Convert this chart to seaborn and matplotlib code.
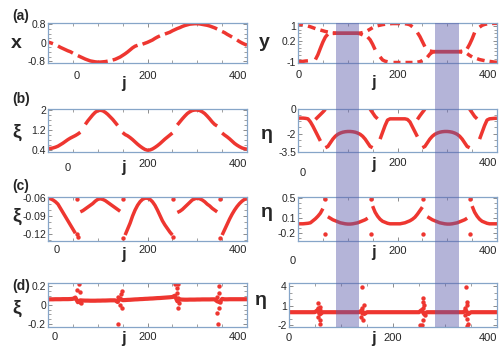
import numpy as np
import pandas as pd
import matplotlib
matplotlib.use("Agg")
import matplotlib.pyplot as plt
import seaborn as sns
from matplotlib.patches import Rectangle
from matplotlib.ticker import FixedLocator, MultipleLocator
from matplotlib.transforms import blended_transform_factory, ScaledTranslation

sns.set_theme(style="white")
plt.rcParams['font.family'] = ['Liberation Sans', 'DejaVu Sans']

nan = np.nan

# ---------------------------------------------------------------------
# data read off the figure, sampled every 5 sites (nan = gap in the curve)
# ---------------------------------------------------------------------
J = np.arange(0, 401, 5)

# (a) left: x
X_A = [0.03, 0.00, -0.04, nan, -0.14, -0.20, -0.25, -0.30, -0.35, -0.39,
       -0.45, nan, -0.56, -0.61, -0.66, -0.71, -0.75, -0.79, -0.81, -0.83,
       -0.84, -0.84, -0.83, -0.82, -0.80, nan, -0.75, -0.72, -0.67, -0.62,
       -0.55, -0.48, -0.40, -0.31, -0.22, -0.15, -0.11, nan, -0.06, -0.02,
       0.02, 0.07, 0.12, 0.19, 0.25, 0.30, nan, 0.38, 0.42, 0.46,
       0.52, 0.57, 0.62, 0.66, 0.71, 0.75, 0.78, 0.81, 0.82, 0.83,
       0.83, 0.82, 0.80, 0.78, 0.76, 0.73, 0.69, 0.65, 0.60, nan,
       0.49, 0.44, 0.37, 0.31, 0.25, nan, 0.12, 0.05, -0.01, -0.06,
       -0.11]

# (a) right: y, two branches
Y_A1 = [1.13, 1.11, 1.08, nan, 1.01, 0.97, 0.92, 0.87, nan, 0.79,
        0.75, 0.71, 0.68, nan, 0.63, 0.62, 0.61, 0.61, 0.61, 0.61,
        0.61, 0.61, 0.61, 0.61, 0.61, 0.62, 0.65, nan, 0.76, 0.84,
        0.92, nan, 1.03, 1.06, 1.09, 1.11, nan, 1.14, 1.15, 1.15,
        1.15, 1.15, nan, 1.14, 1.12, 1.08, 0.97, nan, 0.65, 0.43,
        0.15, -0.13, nan, -0.37, -0.40, -0.41, -0.41, -0.41, -0.41, -0.41,
        -0.41, -0.41, -0.41, -0.41, -0.41, -0.42, -0.44, nan, -0.52, -0.62,
        -0.70, nan, -0.80, -0.85, -0.88, -0.91, nan, -0.95, -0.97, -0.99,
        -1.00]
Y_A2 = [-0.96, -0.96, -0.95, -0.93, -0.92, nan, nan, -0.85, -0.58, -0.22,
        0.12, 0.40, 0.56, nan, 0.60, 0.61, 0.61, 0.61, 0.61, 0.61,
        0.61, 0.61, 0.61, 0.61, 0.61, 0.58, 0.52, nan, 0.40, 0.25,
        0.00, -0.30, nan, -0.70, -0.87, -0.94, -0.97, nan, -1.00, -1.00,
        -1.00, -1.00, nan, -1.00, -1.00, -1.00, -1.00, nan, -0.99, -0.97,
        -0.90, nan, -0.72, -0.55, -0.44, -0.41, -0.41, -0.41, -0.41, -0.41,
        -0.41, -0.41, -0.41, -0.41, -0.41, -0.40, -0.38, nan, -0.25, 0.00,
        0.30, 0.65, nan, 0.95, 1.05, 1.10, 1.13, nan, 1.15, 1.16,
        1.16]

# (b) left: xi
XI_B = [0.47, 0.47, 0.49, 0.52, 0.56, 0.62, 0.68, 0.75, 0.82, 0.88,
        0.93, 0.98, 1.04, 1.11, nan, 1.42, 1.56, 1.68, 1.80, 1.90,
        1.96, 1.98, 1.96, 1.90, 1.82, 1.72, 1.62, 1.50, 1.38, nan,
        1.10, 1.02, 0.97, 0.90, 0.82, 0.73, 0.64, 0.56, 0.49, 0.43,
        0.40, 0.41, 0.45, 0.51, 0.58, 0.66, 0.75, 0.84, 0.92, 1.00,
        1.08, nan, 1.40, 1.52, 1.64, 1.75, 1.85, 1.92, 1.97, 1.99,
        1.99, 1.97, 1.92, 1.85, 1.75, 1.64, 1.52, 1.42, 1.36, nan,
        1.08, 1.00, 0.93, 0.85, 0.76, 0.67, 0.60, 0.54, 0.49, 0.46,
        0.44]

# (b) right: eta, lower and upper branch
ETA_B1 = [-0.75, -0.74, -0.74, -0.76, -0.80, -1.05, -1.40, -1.80, -2.20, -2.60,
          nan, -3.15, -3.05, -2.75, -2.45, -2.22, -2.06, -1.96, -1.89, -1.85,
          -1.83, -1.83, -1.85, -1.89, -1.96, -2.06, -2.22, -2.45, -2.75, -3.05,
          -3.15, nan, nan, -2.45, -1.90, -1.35, -0.90, -0.80, -0.80, -0.80,
          -0.80, -0.80, -0.80, -0.80, -0.85, -1.05, -1.45, -1.85, -2.25, nan,
          -3.15, -3.05, -2.75, -2.45, -2.22, -2.06, -1.96, -1.89, -1.85, -1.83,
          -1.83, -1.85, -1.89, -1.96, -2.06, -2.22, -2.45, -2.75, -3.05, -3.15,
          nan, nan, nan, -2.45, -1.90, -1.35, -0.90, -0.80, -0.78, -0.76,
          -0.75]
ETA_B2 = [nan, nan, nan, nan, nan, nan, nan, -0.85, -0.65, -0.45,
          -0.25, -0.03, nan, nan, nan, nan, nan, nan, nan, nan,
          nan, nan, nan, nan, nan, nan, nan, nan, nan, -0.02,
          -0.30, -0.60, -0.80, nan, nan, nan, nan, nan, nan, nan,
          nan, nan, nan, nan, nan, nan, nan, nan, -0.85, -0.55,
          -0.28, -0.02, nan, nan, nan, nan, nan, nan, nan, nan,
          nan, nan, nan, nan, nan, nan, nan, nan, nan, -0.02,
          -0.30, -0.60, -0.80, nan, nan, nan, nan, nan, nan, nan,
          nan]

# (c) left: xi
XI_C = [-0.060, -0.061, -0.063, -0.066, -0.070, -0.077, -0.084, -0.091, -0.098, -0.105,
        -0.112, -0.119, nan, -0.083, -0.081, -0.078, -0.075, -0.072, -0.069, -0.065,
        -0.062, -0.061, -0.062, -0.064, -0.067, -0.070, -0.073, -0.076, -0.079, -0.082,
        nan, -0.122, -0.112, -0.102, -0.090, -0.080, -0.072, -0.066, -0.062, -0.060,
        -0.060, -0.062, -0.066, -0.072, -0.080, -0.089, -0.098, -0.105, -0.111, -0.117,
        -0.122, nan, -0.084, -0.082, -0.079, -0.075, -0.071, -0.067, -0.063, -0.061,
        -0.060, -0.061, -0.063, -0.066, -0.070, -0.073, -0.077, -0.080, -0.083, nan,
        -0.122, -0.113, -0.104, -0.095, -0.087, -0.080, -0.074, -0.069, -0.065, -0.062,
        -0.061]
XI_C_DOT_J = [58, 58, 60, 151, 151, 252, 252, 346, 346]
XI_C_DOT_V = [-0.062, -0.120, -0.126, -0.062, -0.127, -0.062, -0.126, -0.062, -0.127]

# (c) right: eta
ETA_C = [-0.01, -0.01, -0.01, -0.005, 0.00, 0.01, 0.05, 0.09, 0.14, 0.20,
         0.29, nan, 0.13, 0.10, 0.07, 0.05, 0.03, 0.01, 0.00, -0.01,
         -0.015, -0.015, -0.01, 0.00, 0.01, 0.03, 0.05, 0.07, 0.10, nan,
         0.34, 0.22, 0.14, 0.08, 0.04, 0.02, 0.00, -0.01, -0.01, -0.01,
         -0.01, -0.01, 0.00, 0.01, 0.03, 0.05, 0.08, 0.12, 0.18, 0.25,
         0.32, nan, 0.13, 0.10, 0.07, 0.05, 0.03, 0.01, 0.00, -0.01,
         -0.015, -0.015, -0.01, 0.00, 0.01, 0.03, 0.05, 0.07, 0.10, nan,
         0.34, 0.22, 0.14, 0.08, 0.04, 0.02, 0.00, -0.01, -0.01, -0.01,
         -0.01]
ETA_C_DOT_J = [54, 54, 147, 147, 252, 252, 346, 345]
ETA_C_DOT_V = [0.48, -0.21, 0.48, -0.21, 0.48, -0.21, 0.48, -0.21]

# (d) left: xi
XI_D = [0.060, 0.061, 0.061, 0.062, 0.062, 0.062, 0.063, 0.063, 0.063, 0.064,
        0.066, 0.080, 0.030, 0.050, 0.048, 0.047, 0.047, 0.046, 0.046, 0.046,
        0.047, 0.047, 0.048, 0.048, 0.049, 0.050, 0.050, 0.050, 0.032, 0.070,
        0.052, 0.053, 0.055, 0.056, 0.058, 0.060, 0.061, 0.063, 0.064, 0.066,
        0.067, 0.069, 0.070, 0.072, 0.074, 0.075, 0.077, 0.079, 0.081, 0.083,
        0.086, 0.100, 0.040, 0.060, 0.058, 0.057, 0.057, 0.058, 0.058, 0.058,
        0.059, 0.059, 0.060, 0.060, 0.060, 0.060, 0.061, 0.061, 0.040, 0.030,
        0.065, 0.061, 0.061, 0.062, 0.062, 0.062, 0.062, 0.062, 0.062, 0.062,
        0.062]
XI_D_DOT_J = [58, 62, 64, 64, 67,
              141, 146, 148, 144, 148, 141,
              255, 262, 259, 259, 262, 264, 262,
              343, 343, 339, 345, 343, 339, 341]
XI_D_DOT_V = [0.16, 0.22, 0.14, 0.036, 0.018,
              0.09, 0.12, 0.145, 0.0, -0.036, -0.2,
              0.22, 0.22, 0.18, 0.13, 0.07, 0.018, -0.036,
              0.2, 0.127, 0.09, 0.036, -0.036, -0.09, -0.2]

# (d) right: eta
ETA_D = [0.02, 0.02, 0.02, 0.02, 0.02, 0.02, 0.02, 0.02, 0.02, 0.02,
         0.03, 0.35, -0.30, 0.02, 0.02, 0.02, 0.02, 0.02, 0.02, 0.02,
         0.02, 0.02, 0.02, 0.02, 0.02, 0.02, 0.02, 0.02, 0.30, -0.25,
         0.02, 0.02, 0.02, 0.02, 0.02, 0.02, 0.02, 0.02, 0.02, 0.02,
         0.02, 0.02, 0.02, 0.02, 0.02, 0.02, 0.02, 0.02, 0.02, 0.02,
         0.02, 0.35, -0.30, 0.02, 0.02, 0.02, 0.02, 0.02, 0.02, 0.02,
         0.02, 0.02, 0.02, 0.02, 0.02, 0.02, 0.02, 0.02, 0.30, -0.25,
         0.02, 0.02, 0.02, 0.02, 0.02, 0.02, 0.02, 0.02, 0.02, 0.02,
         0.02]
ETA_D_DOT_J = [56, 59, 60, 58, 56, 59, 60, 55,
               140, 144, 141, 140, 138, 143,
               257, 258, 260, 257, 262, 258, 255, 252,
               341, 342, 343, 339, 345, 339, 342, 345, 343]
ETA_D_DOT_V = [1.4, 0.87, 0.35, -0.17, -0.7, -1.2, -1.74, 0.6,
               3.84, 1.13, 0.6, -0.17, -0.7, -1.2,
               2.17, 1.65, 1.13, 0.6, -0.44, -1.22, -1.9, -2.0,
               3.84, 1.65, 1.13, 0.6, -0.17, -0.44, -0.96, -1.74, -2.1]

# shaded site ranges on the right column
BANDS = [(76, 123), (275, 323)]

RED = '#ee3630'
SPINE = '#86a5c8'
BAND_COLOR = '#5a5aaa'


# ---------------------------------------------------------------------
# helpers
# ---------------------------------------------------------------------
fig = plt.figure(figsize=(5.0, 3.47), dpi=100)


def add_ax(left, top, right, bottom):
    # pixel box -> figure fraction
    return fig.add_axes([left / 500, 1 - bottom / 347, (right - left) / 500, (bottom - top) / 347])


def curve_frame(*series):
    parts = []
    for k, vals in enumerate(series):
        d = pd.DataFrame({'j': J, 'v': np.asarray(vals, dtype=float)})
        d['seg'] = k * 1000 + d['v'].isna().cumsum()
        parts.append(d.dropna())
    return pd.concat(parts, ignore_index=True)


def draw(ax, series, dot_j=None, dot_v=None, lw=2.5):
    df = curve_frame(*series)
    sns.lineplot(data=df, x='j', y='v', units='seg', estimator=None,
                 color=RED, lw=lw, ax=ax, legend=False, solid_capstyle='butt')
    if dot_j is not None:
        sns.scatterplot(x=dot_j, y=dot_v, color=RED, s=10, linewidth=0, ax=ax)


def style(ax, ylim, yticks, ylabels, yminor, ylabel, ylab_xy, jlab_xy, xpad, zero_shift):
    ax.set_xlim(0, 400)
    ax.set_ylim(*ylim)
    ax.xaxis.set_major_locator(FixedLocator([0, 200, 400]))
    ax.set_xticklabels(['0', '200', '400'])
    ax.xaxis.set_minor_locator(MultipleLocator(50))
    ax.yaxis.set_major_locator(FixedLocator(yticks))
    ax.set_yticklabels(ylabels)
    ax.yaxis.set_minor_locator(MultipleLocator(yminor))
    ax.tick_params(which='both', direction='in', bottom=True, top=True,
                   left=True, right=True, color='#7a7a7a')
    ax.tick_params(which='major', length=3, width=0.6)
    ax.tick_params(which='minor', length=2, width=0.5)
    ax.tick_params(axis='x', labelsize=8, pad=xpad)
    ax.tick_params(axis='y', labelsize=7.5, pad=1.5)
    for s in ax.spines.values():
        s.set_color(SPINE)
        s.set_linewidth(0.9)
    ax.set_xlabel('j', fontsize=12, fontweight='bold', va='center')
    ax.xaxis.set_label_coords(*jlab_xy)
    ax.set_ylabel(ylabel, rotation=0, fontsize=14, fontweight='bold',
                  va='center', ha='center')
    ax.yaxis.set_label_coords(*ylab_xy)
    labels = ax.get_xticklabels()
    labels[-1].set_horizontalalignment('right')
    dx, dy = zero_shift
    labels[0].set_transform(labels[0].get_transform()
                            + ScaledTranslation(dx / 100, -dy / 100, fig.dpi_scale_trans))


# ---------------------------------------------------------------------
# panels
# ---------------------------------------------------------------------
ax_al = add_ax(48, 23, 247, 63)
ax_bl = add_ax(48, 109, 247, 152)
ax_cl = add_ax(48, 197, 247, 241)
ax_dl = add_ax(48, 283, 247, 327)
ax_ar = add_ax(298, 23, 497, 63)
ax_br = add_ax(298, 109, 497, 152)
ax_cr = add_ax(298, 197, 497, 241)
ax_dr = add_ax(289, 283, 497, 327)

draw(ax_al, [X_A])
style(ax_al, (-0.88, 0.86), [-0.8, 0, 0.8], ['-0.8', '0', '0.8'], 0.2, 'x',
      (-0.16, 0.5), (0.377, -0.52), 5.5, (29, 0))

draw(ax_ar, [Y_A1, Y_A2])
style(ax_ar, (-1.04, 1.18), [-1, 0.2, 1], ['-1', '0.2', '1'], 0.2, 'y',
      (-0.17, 0.52), (0.377, -0.5), 5, (1, 0))

draw(ax_bl, [XI_B])
style(ax_bl, (0.33, 2.03), [0.4, 1.2, 2], ['0.4', '1.2', '2'], 0.2, 'ξ',
      (-0.156, 0.465), (0.377, -0.37), 5, (20, 4))

draw(ax_br, [ETA_B1, ETA_B2])
style(ax_br, (-3.5, 0.0), [-3.5, -2, 0], ['-3.5', '-2', '0'], 0.5, 'η',
      (-0.156, 0.40), (0.377, -0.30), 4.5, (5, 10))

draw(ax_cl, [XI_C], XI_C_DOT_J, XI_C_DOT_V)
style(ax_cl, (-0.132, -0.058), [-0.12, -0.09, -0.06], ['-0.12', '-0.09', '-0.06'], 0.01, 'ξ',
      (-0.156, 0.55), (0.377, -0.30), 3, (9, 0))

draw(ax_cr, [ETA_C], ETA_C_DOT_J, ETA_C_DOT_V)
style(ax_cr, (-0.35, 0.52), [-0.2, 0.1, 0.5], ['-0.2', '0.1', '0.5'], 0.1, 'η',
      (-0.156, 0.64), (0.377, -0.25), 3.5, (-5, 10))

draw(ax_dl, [XI_D], XI_D_DOT_J, XI_D_DOT_V, lw=3)
style(ax_dl, (-0.236, 0.236), [-0.2, 0, 0.2], ['-0.2', '0', '0.2'], 0.05, 'ξ',
      (-0.156, 0.43), (0.377, -0.27), 3.5, (7, 0))

draw(ax_dr, [ETA_D], ETA_D_DOT_J, ETA_D_DOT_V, lw=3)
style(ax_dr, (-2.26, 4.52), [-2, 1, 4], ['-2', '1', '4'], 1, 'η',
      (-0.135, 0.61), (0.404, -0.25), 4, (0, 0))

# panel letters
for letter, y_px in zip(['(a)', '(b)', '(c)', '(d)'], [16, 99, 186, 286]):
    fig.text(12 / 500, 1 - y_px / 347, letter, fontsize=10, fontweight='bold',
             ha='left', va='center')

# shaded bands running down the whole right column
band_tr = blended_transform_factory(ax_ar.transData, fig.transFigure)
y_bot = ax_dr.get_position().y0
y_top = ax_ar.get_position().y1
for j0, j1 in BANDS:
    fig.add_artist(Rectangle((j0, y_bot), j1 - j0, y_top - y_bot, transform=band_tr,
                             facecolor=BAND_COLOR, edgecolor='none', alpha=0.45, zorder=5))

fig.savefig('out.png', dpi=100, facecolor='white')
